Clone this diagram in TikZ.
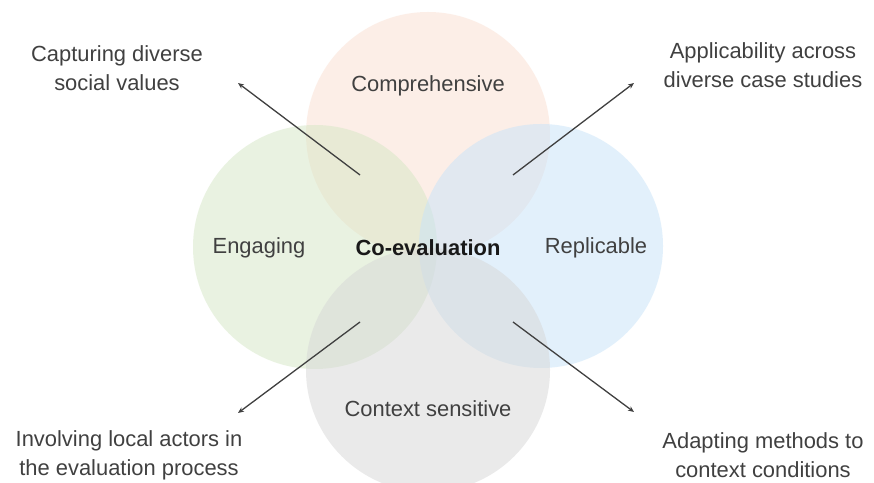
\documentclass[tikz,border=0pt]{standalone}
\usepackage{fontspec}
\setmainfont{Liberation Sans}
\usetikzlibrary{arrows.meta}
\definecolor{peach}{HTML}{FBDFD1}
\definecolor{leaf}{HTML}{D5E7C5}
\definecolor{sky}{HTML}{C7E3F9}
\definecolor{stone}{HTML}{D7D7D7}
\definecolor{ink}{HTML}{404040}
\begin{document}
\begin{tikzpicture}[x=1bp,y=-1bp,
  petal/.style={circle,minimum size=244bp,inner sep=0pt,fill opacity=0.5,draw=none},
  lbl/.style={text=ink,font=\fontsize{22}{29}\selectfont,align=center,inner sep=0pt},
  pointer/.style={draw=black!75,line width=1.3bp,-{Stealth[length=6bp,width=5bp]}}]
\useasboundingbox[fill=white] (0,0) rectangle (874,483);
% four overlapping circles
\node[petal,fill=peach] (top) at (428,134) {};
\node[petal,fill=leaf] (left) at (315,247) {};
\node[petal,fill=sky] (right) at (541,246) {};
\node[petal,fill=stone] (bottom) at (428,370) {};
% circle captions
\node[lbl] (tcap) at (428,86) {Comprehensive};
\node[lbl] (lcap) at (259,248) {Engaging};
\node[lbl] (rcap) at (596,248) {Replicable};
\node[lbl] (bcap) at (428,409) {Context sensitive};
\node[lbl,text=black!90,font=\fontsize{22}{29}\selectfont\bfseries] (core) at (428,248) {Co-evaluation};
% outer statements
\node[lbl] (tl) at (117,68) {Capturing diverse\\social values};
\node[lbl] (tr) at (763,65) {Applicability across\\diverse case studies};
\node[lbl] (bl) at (129,455) {Involving local actors in\\the evaluation process};
\node[lbl] (br) at (763,455) {Adapting methods to\\context conditions};
% arrow start and end points
\coordinate (s1) at (360,175); \coordinate (e1) at (238,83);
\coordinate (s2) at (513,175); \coordinate (e2) at (634,83);
\coordinate (s3) at (360,322); \coordinate (e3) at (238,413);
\coordinate (s4) at (513,322); \coordinate (e4) at (634,412);
\draw[pointer] (s1) -- (e1);
\draw[pointer] (s2) -- (e2);
\draw[pointer] (s3) -- (e3);
\draw[pointer] (s4) -- (e4);
\end{tikzpicture}
\end{document}
